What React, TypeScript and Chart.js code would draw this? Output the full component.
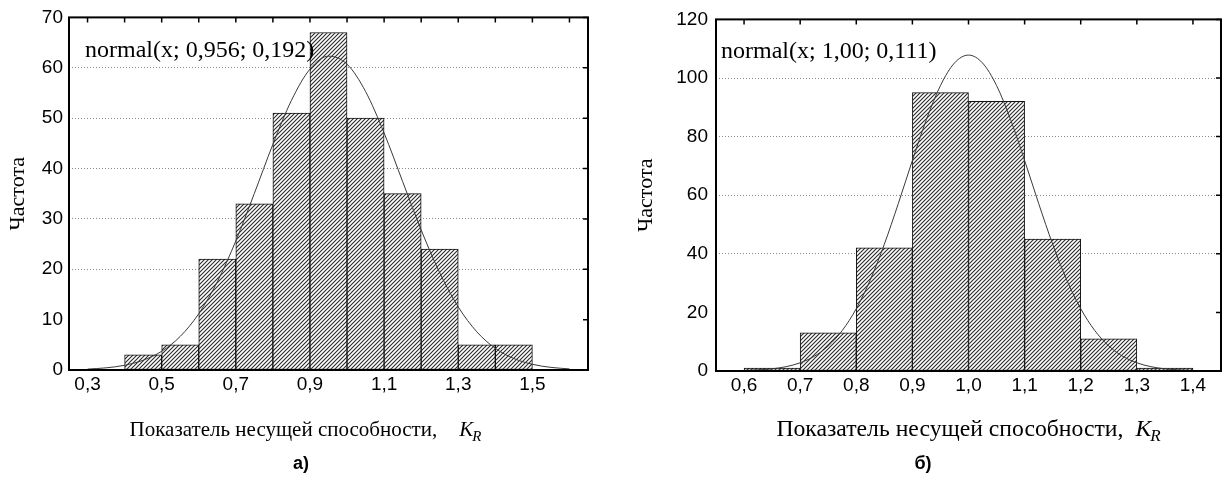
import React, { useEffect, useRef } from 'react';
import { Chart, registerables } from 'chart.js';

Chart.register(...registerables);

// ---------- Panel а) ----------
const A_BIN_CENTERS = [0.45, 0.55, 0.65, 0.75, 0.85, 0.95, 1.05, 1.15, 1.25, 1.35, 1.45];
const A_FREQ = [3, 5, 22, 33, 51, 67, 50, 35, 24, 5, 5];
const A_CURVE_X = [0.30, 0.35, 0.40, 0.45, 0.50, 0.55, 0.60, 0.65, 0.70, 0.75, 0.80, 0.85, 0.90, 0.95, 1.00, 1.05, 1.10, 1.15, 1.20, 1.25, 1.30, 1.35, 1.40, 1.45, 1.50, 1.55, 1.60];
const A_CURVE_Y = [0.18, 0.43, 0.94, 1.94, 3.72, 6.66, 11.17, 17.5, 25.62, 35.06, 44.81, 53.52, 59.74, 62.3, 60.72, 55.29, 47.05, 37.41, 27.8, 19.3, 12.52, 7.59, 4.3, 2.28, 1.13, 0.52, 0.22];
const A_X_LABELS = [0.3, 0.5, 0.7, 0.9, 1.1, 1.3, 1.5];
const A_X_MINOR = [0.3, 0.4, 0.5, 0.6, 0.7, 0.8, 0.9, 1.0, 1.1, 1.2, 1.3, 1.4, 1.5, 1.6];
const A_Y_TICKS = [0, 10, 20, 30, 40, 50, 60, 70];
const A_Y_GRID = [20, 30, 40, 50, 60];
const A_FIT_LABEL = 'normal(x; 0,956; 0,192)';
const A_CAPTION = 'а)';

// ---------- Panel б) ----------
const B_BIN_CENTERS = [0.65, 0.75, 0.85, 0.95, 1.05, 1.15, 1.25, 1.35];
const B_FREQ = [1, 13, 42, 95, 92, 45, 11, 1];
const B_CURVE_X = [0.600, 0.625, 0.650, 0.675, 0.700, 0.725, 0.750, 0.775, 0.800, 0.825, 0.850, 0.875, 0.900, 0.925, 0.950, 0.975, 1.000, 1.025, 1.050, 1.075, 1.100, 1.125, 1.150, 1.175, 1.200, 1.225, 1.250, 1.275, 1.300, 1.325, 1.350, 1.375, 1.400];
const B_CURVE_Y = [0.16, 0.36, 0.75, 1.48, 2.8, 5.01, 8.54, 13.82, 21.27, 31.11, 43.27, 57.2, 71.85, 85.82, 97.42, 105.12, 107.82, 105.12, 97.42, 85.82, 71.85, 57.2, 43.27, 31.11, 21.27, 13.82, 8.54, 5.01, 2.8, 1.48, 0.75, 0.36, 0.16];
const B_X_LABELS = [0.6, 0.7, 0.8, 0.9, 1.0, 1.1, 1.2, 1.3, 1.4];
const B_X_MINOR = [0.6, 0.7, 0.8, 0.9, 1.0, 1.1, 1.2, 1.3, 1.4];
const B_Y_TICKS = [0, 20, 40, 60, 80, 100, 120];
const B_Y_GRID = [40, 60, 80, 100];
const B_FIT_LABEL = 'normal(x; 1,00; 0,111)';
const B_CAPTION = 'б)';

const X_TITLE = 'Показатель несущей способности,';
const Y_TITLE = 'Частота';

const SANS = '"Liberation Sans", Arial, sans-serif';
const SERIF = '"Liberation Serif", "Times New Roman", serif';

function makeHatch(): CanvasPattern | string {
  const s = 4;
  const c = document.createElement('canvas');
  c.width = s;
  c.height = s;
  const g = c.getContext('2d');
  if (!g) return '#888';
  g.fillStyle = '#ffffff';
  g.fillRect(0, 0, s, s);
  g.strokeStyle = '#2a2a2a';
  g.lineWidth = 1.1;
  g.beginPath();
  g.moveTo(0, s);
  g.lineTo(s, 0);
  g.moveTo(-1, 1);
  g.lineTo(1, -1);
  g.moveTo(s - 1, s + 1);
  g.lineTo(s + 1, s - 1);
  g.stroke();
  const p = g.createPattern(c, 'repeat');
  return p || '#888';
}

type PanelProps = {
  left: number;
  width: number;
  height: number;
  plotTop: number;
  plotBottom: number;
  plotLeft: number;
  plotRight: number;
  xMin: number;
  xMax: number;
  yMax: number;
  binCenters: number[];
  freq: number[];
  curveX: number[];
  curveY: number[];
  xLabels: number[];
  xMinor: number[];
  yTicks: number[];
  yGrid: number[];
  fitLabel: string;
  fitX: number;
  fitY: number;
  caption: string;
  captionX: number;
  captionY: number;
  titleCx: number;
  titleY: number;
  titleGap: number;
  titleSize: number;
  yTitlePad: number;
  yTickPad: number;
};

function Panel(p: PanelProps) {
  const ref = useRef<HTMLCanvasElement | null>(null);
  useEffect(() => {
    if (!ref.current) return;
    const hatch = makeHatch();
    const fmt = (v: number) => v.toFixed(1).replace('.', ',');

    const decor = {
      id: 'decor',
      afterDatasetsDraw(chart: any) {
        const ctx = chart.ctx as CanvasRenderingContext2D;
        const a = chart.chartArea;
        const xs = chart.scales.x;
        const ys = chart.scales.y;
        ctx.save();
        // frame
        ctx.strokeStyle = '#000';
        ctx.lineWidth = 2;
        ctx.strokeRect(a.left, a.top, a.right - a.left, a.bottom - a.top);
        // inner ticks on top and right
        ctx.lineWidth = 1.5;
        ctx.beginPath();
        p.xMinor.forEach((v) => {
          const x = xs.getPixelForValue(v);
          ctx.moveTo(x, a.top);
          ctx.lineTo(x, a.top + 5);
        });
        p.yTicks.forEach((v) => {
          const y = ys.getPixelForValue(v);
          ctx.moveTo(a.right, y);
          ctx.lineTo(a.right - 5, y);
        });
        ctx.stroke();
        // fit label
        ctx.fillStyle = '#000';
        ctx.textBaseline = 'alphabetic';
        ctx.textAlign = 'left';
        ctx.font = `24px ${SERIF}`;
        ctx.fillText(p.fitLabel, p.fitX, p.fitY);
        // x title
        const fs = p.titleSize;
        const fsSub = Math.round(fs * 0.72);
        ctx.font = `${fs}px ${SERIF}`;
        const wMain = ctx.measureText(X_TITLE).width;
        ctx.font = `italic ${fs}px ${SERIF}`;
        const wK = ctx.measureText('K').width;
        ctx.font = `italic ${fsSub}px ${SERIF}`;
        const wR = ctx.measureText('R').width;
        const total = wMain + p.titleGap + wK + wR;
        let x0 = p.titleCx - total / 2;
        ctx.font = `${fs}px ${SERIF}`;
        ctx.fillText(X_TITLE, x0, p.titleY);
        x0 += wMain + p.titleGap;
        ctx.font = `italic ${fs}px ${SERIF}`;
        ctx.fillText('K', x0, p.titleY);
        x0 += wK;
        ctx.font = `italic ${fsSub}px ${SERIF}`;
        ctx.fillText('R', x0 - 1, p.titleY + 5);
        // caption
        ctx.font = `bold 18px ${SANS}`;
        ctx.textAlign = 'center';
        ctx.fillText(p.caption, p.captionX, p.captionY);
        ctx.restore();
      },
    };

    const chart = new Chart(ref.current, {
      type: 'bar',
      data: {
        datasets: [
          {
            type: 'line',
            data: p.curveX.map((x, i) => ({ x, y: p.curveY[i] })),
            borderColor: '#3a3a3a',
            borderWidth: 1,
            pointRadius: 0,
            fill: false,
            cubicInterpolationMode: 'monotone',
            order: 0,
          } as any,
          {
            type: 'bar',
            data: p.binCenters.map((x, i) => ({ x, y: p.freq[i] })),
            backgroundColor: hatch as any,
            borderColor: '#111',
            borderWidth: 1,
            borderSkipped: false,
            barPercentage: 1,
            categoryPercentage: 1,
            order: 1,
          } as any,
        ],
      },
      options: {
        responsive: false,
        animation: false,
        events: [],
        layout: {
          padding: {
            left: 0,
            top: p.plotTop,
            right: p.width - p.plotRight,
            bottom: 0,
          },
        },
        plugins: {
          legend: { display: false },
          tooltip: { enabled: false },
        },
        scales: {
          x: {
            type: 'linear',
            min: p.xMin,
            max: p.xMax,
            offset: false,
            grid: { display: false, drawTicks: false },
            border: { display: false },
            afterBuildTicks: (s: any) => {
              s.ticks = p.xLabels.map((v) => ({ value: v }));
            },
            afterFit: (s: any) => {
              s.height = p.height - p.plotBottom;
            },
            ticks: {
              autoSkip: false,
              maxRotation: 0,
              padding: 3,
              color: '#000',
              font: { family: SANS, size: 19 },
              callback: (v: any) => fmt(Number(v)),
            },
          },
          y: {
            type: 'linear',
            min: 0,
            max: p.yMax,
            afterBuildTicks: (s: any) => {
              s.ticks = p.yTicks.map((v) => ({ value: v }));
            },
            afterFit: (s: any) => {
              s.width = p.plotLeft;
            },
            grid: {
              drawTicks: false,
              lineWidth: 1,
              color: (c: any) => (c.tick && p.yGrid.includes(c.tick.value) ? '#8a8a8a' : 'rgba(0,0,0,0)'),
            },
            border: { display: false, dash: [1, 2] },
            ticks: {
              padding: p.yTickPad,
              color: '#000',
              font: { family: SANS, size: 19 },
              callback: (v: any) => String(v),
            },
            title: {
              display: true,
              text: Y_TITLE,
              color: '#000',
              font: { family: SERIF, size: 22 },
              padding: { top: p.yTitlePad, bottom: 0 },
            },
          },
        },
      },
      plugins: [decor],
    } as any);
    return () => chart.destroy();
  }, []);
  return (
    <div style={{ position: 'absolute', left: p.left, top: 0, width: p.width, height: p.height }}>
      <canvas ref={ref} width={p.width} height={p.height} style={{ display: 'block' }} />
    </div>
  );
}

export default function App() {
  return (
    <div style={{ position: 'fixed', left: 0, top: 0, width: 1227, height: 489, background: '#fff', overflow: 'hidden' }}>
      <Panel
        left={0}
        width={613}
        height={489}
        plotTop={15}
        plotBottom={370}
        plotLeft={69}
        plotRight={588}
        xMin={0.25}
        xMax={1.65}
        yMax={70}
        binCenters={A_BIN_CENTERS}
        freq={A_FREQ}
        curveX={A_CURVE_X}
        curveY={A_CURVE_Y}
        xLabels={A_X_LABELS}
        xMinor={A_X_MINOR}
        yTicks={A_Y_TICKS}
        yGrid={A_Y_GRID}
        fitLabel={A_FIT_LABEL}
        fitX={85}
        fitY={57}
        caption={A_CAPTION}
        captionX={301}
        captionY={469}
        titleCx={306}
        titleY={436}
        titleGap={22}
        titleSize={21}
        yTitlePad={5}
        yTickPad={6}
      />
      <Panel
        left={613}
        width={614}
        height={489}
        plotTop={13}
        plotBottom={371}
        plotLeft={103}
        plotRight={608}
        xMin={0.55}
        xMax={1.45}
        yMax={120}
        binCenters={B_BIN_CENTERS}
        freq={B_FREQ}
        curveX={B_CURVE_X}
        curveY={B_CURVE_Y}
        xLabels={B_X_LABELS}
        xMinor={B_X_MINOR}
        yTicks={B_Y_TICKS}
        yGrid={B_Y_GRID}
        fitLabel={B_FIT_LABEL}
        fitX={108}
        fitY={58}
        caption={B_CAPTION}
        captionX={310}
        captionY={469}
        titleCx={356}
        titleY={436}
        titleGap={12}
        titleSize={23.7}
        yTitlePad={20}
        yTickPad={8}
      />
    </div>
  );
}
